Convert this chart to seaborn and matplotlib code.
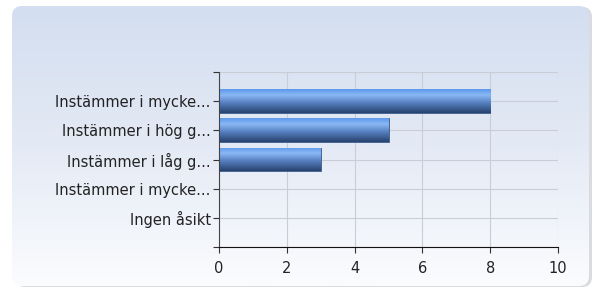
import numpy as np
import pandas as pd
import matplotlib
matplotlib.use("Agg")
import matplotlib.pyplot as plt
import seaborn as sb
from matplotlib.patches import FancyBboxPatch
from matplotlib.colors import LinearSegmentedColormap

# data
categories = ["Instämmer i mycket hög grad", "Instämmer i hög grad",
              "Instämmer i låg grad", "Instämmer i mycket låg grad", "Ingen åsikt"]
tick_labels = ["Instämmer i mycke...", "Instämmer i hög g...",
               "Instämmer i låg g...", "Instämmer i mycke...", "Ingen åsikt"]
counts = [8, 5, 3, 0, 0]
x_ticks = [0, 2, 4, 6, 8, 10]

sb.set_style("white")
plt.rcParams['font.family'] = ['DejaVu Sans']

fig = plt.figure(figsize=(5.94, 2.89), dpi=100)
fig.patch.set_facecolor("white")

# background panel with gradient and rounded corners
bg = fig.add_axes([0, 0, 1, 1])
bg.set_xlim(0, 594)
bg.set_ylim(289, 0)
bg.axis("off")
shadow = FancyBboxPatch((15, 7), 577, 280, boxstyle="round,pad=0,rounding_size=10",
                        fc="#d9dbe0", ec="none", zorder=0)
bg.add_patch(shadow)
panel = FancyBboxPatch((12, 6), 577, 280, boxstyle="round,pad=0,rounding_size=10",
                       fc="none", ec="none", zorder=1)
bg.add_patch(panel)
bg_cmap = LinearSegmentedColormap.from_list("bg", ["#d3def0", "#e4eaf5", "#fbfcfe"])
grad = np.linspace(0, 1, 256).reshape(-1, 1)
im = bg.imshow(grad, cmap=bg_cmap, extent=[12, 589, 286, 6], aspect="auto",
               origin="upper", zorder=2)
im.set_clip_path(panel)

ax = fig.add_axes([219 / 594, 42 / 289, 339 / 594, 175 / 289])
ax.patch.set_alpha(0)
df = pd.DataFrame({"Svar": categories, "Antal": counts})
sb.barplot(data=df, x="Antal", y="Svar", orient="h", order=categories,
           color="#4a7fd0", width=0.82, edgecolor="#3a5a8a", linewidth=0.6, ax=ax)

# gradient fill on each bar
bar_cmap = LinearSegmentedColormap.from_list(
    "bar", [(0, "#5c98ec"), (0.25, "#8ab8f4"), (0.55, "#5a84c4"), (1, "#26426f")])
bgrad = np.linspace(0, 1, 128).reshape(-1, 1)
for p in ax.patches:
    w = p.get_width()
    if w <= 0:
        continue
    x0, y0, h = p.get_x(), p.get_y(), p.get_height()
    gi = ax.imshow(bgrad, cmap=bar_cmap, extent=[x0, x0 + w, y0 + h, y0],
                   aspect="auto", origin="upper", zorder=p.get_zorder() + 0.1)
    gi.set_clip_path(p)

ax.set_xlim(0, 10)
ax.set_ylim(5, -1)
ax.set_xticks(x_ticks)
ax.set_yticks(range(-1, 6))
ax.set_yticklabels([""] + tick_labels + [""])
ax.set_xlabel("")
ax.set_ylabel("")
ax.grid(True, color="#c9cdd5", linewidth=0.8)
ax.set_axisbelow(True)
for s in ["top", "right"]:
    ax.spines[s].set_visible(False)
ax.spines["left"].set_color("#444444")
ax.spines["bottom"].set_color("#111111")
ax.tick_params(axis="both", length=4, width=0.8, color="#333333",
               labelsize=10.5, labelcolor="#222222", left=True, bottom=True)
ax.tick_params(axis="x", pad=6)
ax.tick_params(axis="y", pad=2)

plt.savefig("out.png", dpi=100)
